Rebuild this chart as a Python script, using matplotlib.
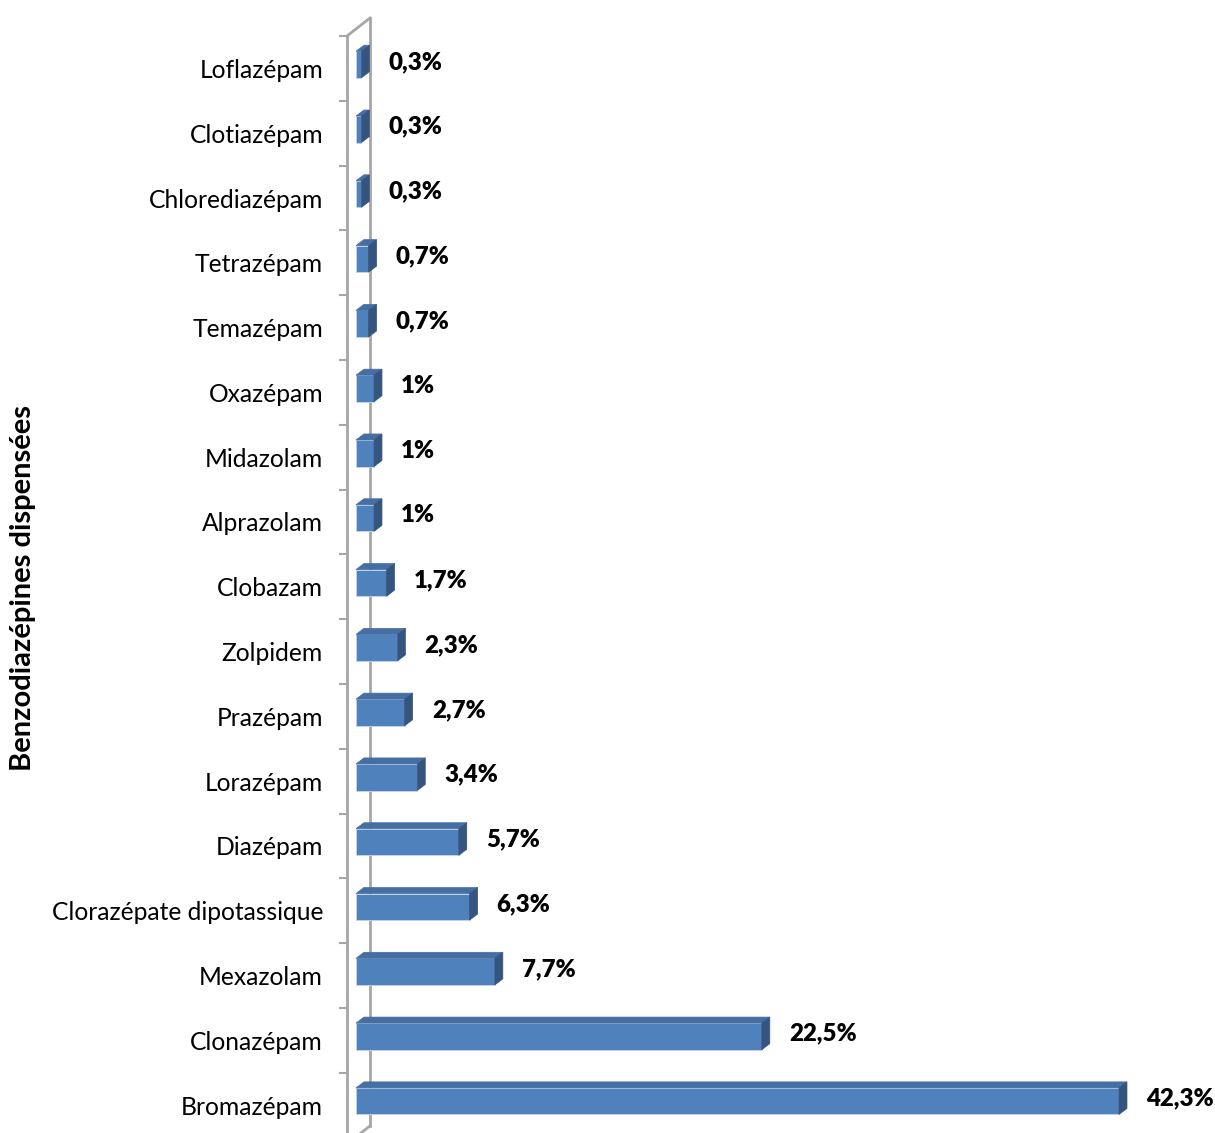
import matplotlib
matplotlib.use("Agg")
import matplotlib.pyplot as plt
from matplotlib.patches import Polygon

# data, bottom to top
drugs = ["Bromazépam", "Clonazépam", "Mexazolam", "Clorazépate dipotassique",
         "Diazépam", "Lorazépam", "Prazépam", "Zolpidem", "Clobazam",
         "Alprazolam", "Midazolam", "Oxazépam", "Temazépam", "Tetrazépam",
         "Chlorediazépam", "Clotiazépam", "Loflazépam"]
values = [42.3, 22.5, 7.7, 6.3, 5.7, 3.4, 2.7, 2.3, 1.7,
          1, 1, 1, 0.7, 0.7, 0.3, 0.3, 0.3]
labels = ["42,3%", "22,5%", "7,7%", "6,3%", "5,7%", "3,4%", "2,7%", "2,3%", "1,7%",
          "1%", "1%", "1%", "0,7%", "0,7%", "0,3%", "0,3%", "0,3%"]

FRONT = "#4f81bd"
TOP = "#456fa3"
SIDE = "#35557f"
WALL = "#a6a6a6"

W, H = 1215, 1133
fig = plt.figure(figsize=(W / 100, H / 100), dpi=100)
ax = fig.add_axes([330 / W, 0, (W - 330) / W, 1])
ax.set_xlim(-1.441, 47.62)
ax.set_ylim(-0.431, 17.056)
for s in ax.spines.values():
    s.set_visible(False)
ax.set_xticks([])

# 3d depth in data units
bar_dx, bar_dy = 0.44, 0.093
wall_x0, wall_dx, wall_dy = -0.50, 1.275, 0.278
n = len(drugs)

# side wall
ax.plot([wall_x0, wall_x0], [-0.6, n - 0.5], color=WALL, lw=2, zorder=1)
ax.plot([wall_x0 + wall_dx, wall_x0 + wall_dx], [-0.6 + wall_dy, n - 0.5 + wall_dy],
        color=WALL, lw=2, zorder=1)
ax.plot([wall_x0, wall_x0 + wall_dx], [n - 0.5, n - 0.5 + wall_dy], color=WALL, lw=2, zorder=1)
ax.plot([wall_x0, wall_x0 + wall_dx], [-0.6, -0.6 + wall_dy], color=WALL, lw=2, zorder=1)
for k in range(n + 1):
    ax.plot([wall_x0 - 0.39, wall_x0], [k - 0.5, k - 0.5], color=WALL, lw=1.5, zorder=1)

# bars
h = 0.41
yc = [i + 0.06 for i in range(n)]
ax.barh(yc, values, height=h, color=FRONT, edgecolor="#c6d5ea", linewidth=0.6, zorder=3)
for y, v in zip(yc, values):
    y0, y1 = y - h / 2, y + h / 2
    top = Polygon([(0, y1), (v, y1), (v + bar_dx, y1 + bar_dy), (bar_dx, y1 + bar_dy)],
                  closed=True, facecolor=TOP, edgecolor=TOP, lw=0.5, zorder=3)
    side = Polygon([(v, y0), (v, y1), (v + bar_dx, y1 + bar_dy), (v + bar_dx, y0 + bar_dy)],
                   closed=True, facecolor=SIDE, edgecolor=SIDE, lw=0.5, zorder=3)
    ax.add_patch(top)
    ax.add_patch(side)

for y, v, lab in zip(yc, values, labels):
    ax.text(v + 1.5, y + 0.04, lab, ha="left", va="center", fontsize=17.3,
            fontweight="heavy", family="Lato")

ax.set_yticks(range(n))
ax.set_yticklabels(drugs, fontsize=17.7, family="Lato")
ax.tick_params(axis="y", length=0, pad=5)

fig.text(23 / W, 1 - 588 / H, "Benzodiazépines dispensées", rotation=90,
         ha="center", va="center", fontsize=21, fontweight="bold", family="Lato")

fig.savefig("out.png", dpi=100)
